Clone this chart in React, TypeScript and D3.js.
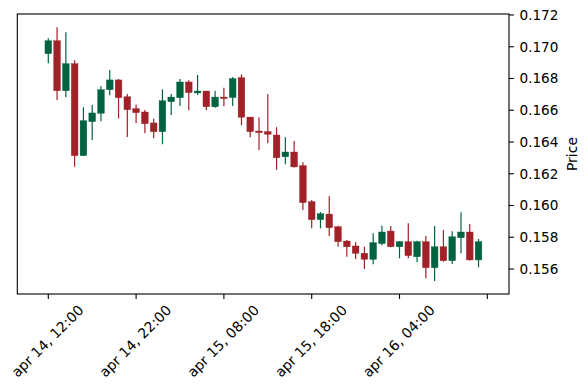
import React from "react";
import * as d3 from "d3";

const opens = [0.16956, 0.17038, 0.16723, 0.16893, 0.16314, 0.16528, 0.16581, 0.16729, 0.16791, 0.16685,
  0.16610, 0.16589, 0.16520, 0.16465, 0.16654, 0.16679, 0.16778, 0.16709, 0.16721, 0.16622,
  0.16683, 0.16680, 0.16805, 0.16557, 0.16469, 0.16465, 0.16444, 0.16307, 0.16337, 0.16251,
  0.16024, 0.15911, 0.15946, 0.15866, 0.15776, 0.15745, 0.15699, 0.15661, 0.15760, 0.15839,
  0.15740, 0.15772, 0.15677, 0.15772, 0.15608, 0.15740, 0.15652, 0.15797, 0.15833, 0.15657];
const highs = [0.17053, 0.17123, 0.17091, 0.16915, 0.16619, 0.16633, 0.16753, 0.16854, 0.16797, 0.16702,
  0.16637, 0.16602, 0.16547, 0.16732, 0.16702, 0.16797, 0.16789, 0.16822, 0.16722, 0.16723,
  0.16742, 0.16809, 0.16826, 0.16557, 0.16556, 0.16702, 0.16493, 0.16430, 0.16406, 0.16272,
  0.16035, 0.15959, 0.16058, 0.15873, 0.15783, 0.15768, 0.15740, 0.15825, 0.15873, 0.15871,
  0.15775, 0.15888, 0.15778, 0.15808, 0.15871, 0.15846, 0.15837, 0.15957, 0.15884, 0.15789];
const lows = [0.16896, 0.16665, 0.16683, 0.16244, 0.16314, 0.16413, 0.16530, 0.16694, 0.16549, 0.16431,
  0.16520, 0.16455, 0.16423, 0.16386, 0.16570, 0.16627, 0.16600, 0.16696, 0.16600, 0.16616,
  0.16625, 0.16627, 0.16505, 0.16430, 0.16350, 0.16392, 0.16224, 0.16260, 0.16240, 0.15972,
  0.15856, 0.15856, 0.15808, 0.15740, 0.15677, 0.15663, 0.15600, 0.15630, 0.15749, 0.15737,
  0.15667, 0.15667, 0.15642, 0.15541, 0.15524, 0.15646, 0.15631, 0.15699, 0.15654, 0.15611];
const closes = [0.17038, 0.16723, 0.16893, 0.16314, 0.16534, 0.16583, 0.16729, 0.16791, 0.16679, 0.16603,
  0.16585, 0.16515, 0.16465, 0.16660, 0.16683, 0.16778, 0.16711, 0.16721, 0.16622, 0.16683,
  0.16680, 0.16799, 0.16556, 0.16465, 0.16459, 0.16449, 0.16301, 0.16337, 0.16243, 0.16018,
  0.15911, 0.15948, 0.15860, 0.15772, 0.15740, 0.15699, 0.15661, 0.15766, 0.15833, 0.15740,
  0.15772, 0.15684, 0.15772, 0.15608, 0.15740, 0.15652, 0.15803, 0.15833, 0.15657, 0.15772];

const xTickIdx = [0, 10, 20, 30, 40, 50];
const xTickLabels = ["apr 14, 12:00", "apr 14, 22:00", "apr 15, 08:00", "apr 15, 18:00", "apr 16, 04:00", ""];
const yTicks = [0.156, 0.158, 0.16, 0.162, 0.164, 0.166, 0.168, 0.17, 0.172];

const UP = "#006340";
const DOWN = "#a02128";

export default function App() {
  const W = 588, H = 390;
  const left = 17.3, right = 509, top = 14, bottom = 294;
  const x = d3.scaleLinear().domain([-3.53, 52.47]).range([left, right]);
  const y = d3.scaleLinear().domain([0.154425, 0.172063]).range([bottom, top]);
  const step = x(1) - x(0);
  const bw = step * 0.76;
  const font = "DejaVu Sans, sans-serif";
  const fs = 13.6;

  return (
    <svg width={W} height={H} style={{ position: "absolute", left: 0, top: 0, background: "#fff" }}>
      <rect x={0} y={0} width={W} height={H} fill="#fff" />
      {opens.map((o, i) => {
        const c = closes[i];
        const up = c >= o;
        const col = up ? UP : DOWN;
        const cx = x(i);
        const yt = y(Math.max(o, c));
        const yb = y(Math.min(o, c));
        const h = Math.max(yb - yt, 1.5);
        return (
          <g key={i}>
            <line x1={cx} x2={cx} y1={y(highs[i])} y2={y(lows[i])} stroke={col} strokeWidth={1.2} />
            <rect x={cx - bw / 2} y={yt} width={bw} height={h} fill={col} stroke={col} strokeWidth={0.4} />
          </g>
        );
      })}
      <rect x={left} y={top} width={right - left} height={bottom - top} fill="none" stroke="#000" strokeWidth={1.1} />
      {yTicks.map((t, i) => (
        <g key={i}>
          <line x1={right} x2={right + 4.9} y1={y(t)} y2={y(t)} stroke="#000" strokeWidth={1.1} />
          <text x={right + 10.5} y={y(t)} dominantBaseline="central" fontFamily={font} fontSize={fs} fill="#000">
            {t.toFixed(3)}
          </text>
        </g>
      ))}
      {xTickIdx.map((t, i) => {
        const tx = x(t);
        const cy = 341;
        return (
          <g key={i}>
            <line x1={tx} x2={tx} y1={bottom} y2={bottom + 4.9} stroke="#000" strokeWidth={1.1} />
            {xTickLabels[i] && (
              <text x={tx - 0.8} y={cy} textAnchor="middle" dominantBaseline="central" fontFamily={font} fontSize={14}
                transform={`rotate(-45 ${tx - 0.8} ${cy})`} fill="#000">
                {xTickLabels[i]}
              </text>
            )}
          </g>
        );
      })}
      <text x={572} y={(top + bottom) / 2} textAnchor="middle" dominantBaseline="central" fontFamily={font} fontSize={14}
        transform={`rotate(-90 572 ${(top + bottom) / 2})`} fill="#000">Price</text>
    </svg>
  );
}
